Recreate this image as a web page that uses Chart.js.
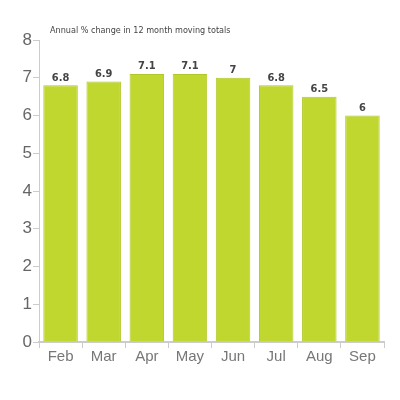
<!DOCTYPE html>
<html>
<head>
<meta charset="utf-8">
<script src="https://cdn.jsdelivr.net/npm/chart.js@4"></script>
<style>
html,body{margin:0;padding:0;background:#fff;}
</style>
</head>
<body>
<canvas id="myChart" width="400" height="400"></canvas>
<script>
var months = ["Feb","Mar","Apr","May","Jun","Jul","Aug","Sep"];
var changes = [6.8, 6.9, 7.1, 7.1, 7, 6.8, 6.5, 6];
var titleText = "Annual % change in 12 month moving totals";

// value labels above each bar + small title
var labelPlugin = {
  id: "labels",
  afterDatasetsDraw: function (chart) {
    var ctx = chart.ctx;
    var meta = chart.getDatasetMeta(0);
    ctx.save();
    ctx.fillStyle = "#444";
    ctx.font = "bold 11px 'DejaVu Sans Condensed', 'DejaVu Sans'";
    ctx.textAlign = "center";
    ctx.textBaseline = "bottom";
    meta.data.forEach(function (bar, i) {
      ctx.fillText(String(changes[i]), bar.x, bar.y - 2);
    });
    ctx.font = "9px 'DejaVu Sans Condensed', 'DejaVu Sans'";
    ctx.textAlign = "left";
    ctx.textBaseline = "middle";
    ctx.fillText(titleText, chart.chartArea.left + 11, 31);
    ctx.restore();
  }
};

new Chart("myChart", {
  type: "bar",
  data: {
    labels: months,
    datasets: [{
      data: changes,
      backgroundColor: "#c0d72f",
      borderColor: "#b2c828",
      borderWidth: 1,
      categoryPercentage: 1,
      barPercentage: 0.8
    }]
  },
  options: {
    responsive: false,
    animation: false,
    devicePixelRatio: 1,
    layout: {padding: {top: 40, right: 16, left: 0, bottom: 0}},
    plugins: {
      legend: {display: false},
      tooltip: {enabled: false}
    },
    scales: {
      x: {
        grid: {drawOnChartArea: false, tickLength: 6, color: "#ccc", offset: true},
        border: {color: "#ccc", width: 2},
        ticks: {color: "#777", font: {family: "'Liberation Sans', Arial", size: 15}, padding: 0, maxRotation: 0},
        afterFit: function (s) { s.height = 58; }
      },
      y: {
        min: 0,
        max: 8,
        grid: {drawOnChartArea: false, tickLength: 6, color: "#ccc"},
        border: {color: "#ccc", width: 1},
        ticks: {stepSize: 1, color: "#666", font: {family: "'Liberation Sans', Arial", size: 17}, padding: 1},
        afterFit: function (s) { s.width = 39; }
      }
    }
  },
  plugins: [labelPlugin]
});
</script>
</body>
</html>
